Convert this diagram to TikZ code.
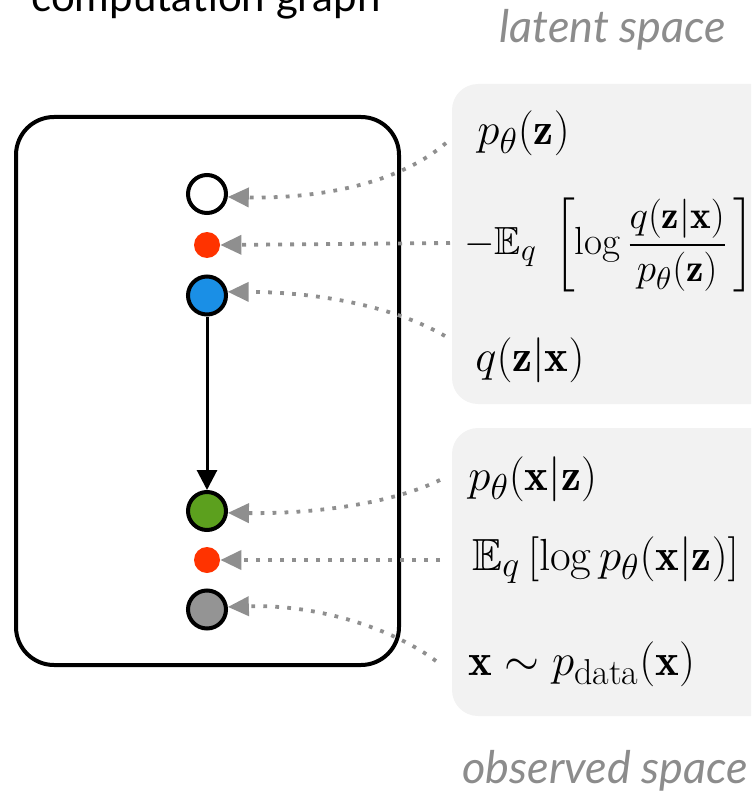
\documentclass[tikz,border=0pt]{standalone}
\usepackage{fix-cm}
\usepackage{amsmath,amssymb}
\usepackage{fontspec}
\setsansfont{Lato}
\usepackage{tikz}
\usetikzlibrary{arrows.meta}
\DeclareMathSizes{22.5}{22.5}{18}{13.5}
\DeclareMathSizes{19.6}{19.6}{15.7}{11.8}
\definecolor{ink}{HTML}{000000}
\definecolor{dotgray}{HTML}{8F8F8F}
\definecolor{panelgray}{HTML}{F2F2F2}
\definecolor{labelgray}{HTML}{8C8C8C}
\definecolor{klred}{HTML}{FF3300}
\definecolor{encblue}{HTML}{1A8FE6}
\definecolor{decgreen}{HTML}{5CA01E}
\definecolor{datagray}{HTML}{949494}

\begin{document}
\begin{tikzpicture}[
  x=0.5pt,y=-0.5pt,
  var/.style={circle,draw=ink,line width=2pt,minimum size=19pt,inner sep=0pt},
  loss/.style={circle,fill=klred,minimum size=13pt,inner sep=0pt},
  term/.style={anchor=west,inner sep=0pt,font=\fontsize{22.5}{27}\selectfont},
  caption/.style={inner sep=0pt,font=\sffamily\itshape\fontsize{22.5}{26}\selectfont,text=labelgray},
  panel/.style={fill=panelgray,rounded corners=13pt},
  dots/.style={draw=dotgray,line width=1.9pt,dash pattern=on 1.9pt off 4.1pt,-{Triangle[length=10.5pt,width=9.5pt]},dotgray},
  arr/.style={-{Triangle[length=10pt,width=10pt]},line width=1.5pt,draw=ink}
]
\useasboundingbox (0,0) rectangle (751,792);
\clip (0,0) rectangle (751,792);

% titles
\node[inner sep=0pt,anchor=base,font=\sffamily\fontsize{21}{25}\selectfont] (title) at (206,12) {computation graph};
\node[caption] (latent) at (613,30) {latent space};
\node[caption] (observed) at (605,771) {observed space};

% panels
\fill[panel] (452,84) rectangle (790,404);
\fill[panel] (452,428) rectangle (790,716);
\draw[line width=2pt,rounded corners=19pt] (16,117) rectangle (399,665);

% graph
\node[var,fill=white] (z) at (207,194) {};
\node[loss] (kl) at (207,245) {};
\node[var,fill=encblue] (enc) at (207,295.5) {};
\node[var,fill=decgreen] (dec) at (207,511) {};
\node[loss] (rec) at (207,560) {};
\node[var,fill=datagray] (x) at (207,609.5) {};
\draw[arr] (enc) -- (dec);

% terms
\node[term] (prior) at (477,133) {$p_\theta(\mathbf{z})$};
\node[term,font=\fontsize{19.6}{24}\selectfont] (klterm) at (464,245) {$\displaystyle-\mathbb{E}_q\;\left[\log\dfrac{q(\mathbf{z}|\mathbf{x})}{p_\theta(\mathbf{z})}\,\right]$};
\node[term] (post) at (475,360) {$q(\mathbf{z}|\mathbf{x})$};
\node[term] (lik) at (468,479) {$p_\theta(\mathbf{x}|\mathbf{z})$};
\node[term] (recterm) at (472,560) {$\mathbb{E}_q\left[\log p_\theta(\mathbf{x}|\mathbf{z})\right]$};
\node[term] (data) at (468,664) {$\mathbf{x}\sim p_{\mathrm{data}}(\mathbf{x})$};

\coordinate (s1) at (446,143);
\coordinate (s2) at (450,243);
\coordinate (s3) at (445,336);
\coordinate (s4) at (440,480);
\coordinate (s5) at (440,560);
\coordinate (s6) at (436,661);
\draw[dots] (s1) .. controls (400,183) and (320,199) .. (z.-8);
\draw[dots] (s2) -- (kl.east);
\draw[dots] (s3) .. controls (395,307) and (320,292) .. (enc.10);
\draw[dots] (s4) .. controls (395,502) and (320,514) .. (dec.-5);
\draw[dots] (s5) -- (rec.east);
\draw[dots] (s6) .. controls (395,630) and (320,604) .. (x.7);
\end{tikzpicture}
\end{document}
